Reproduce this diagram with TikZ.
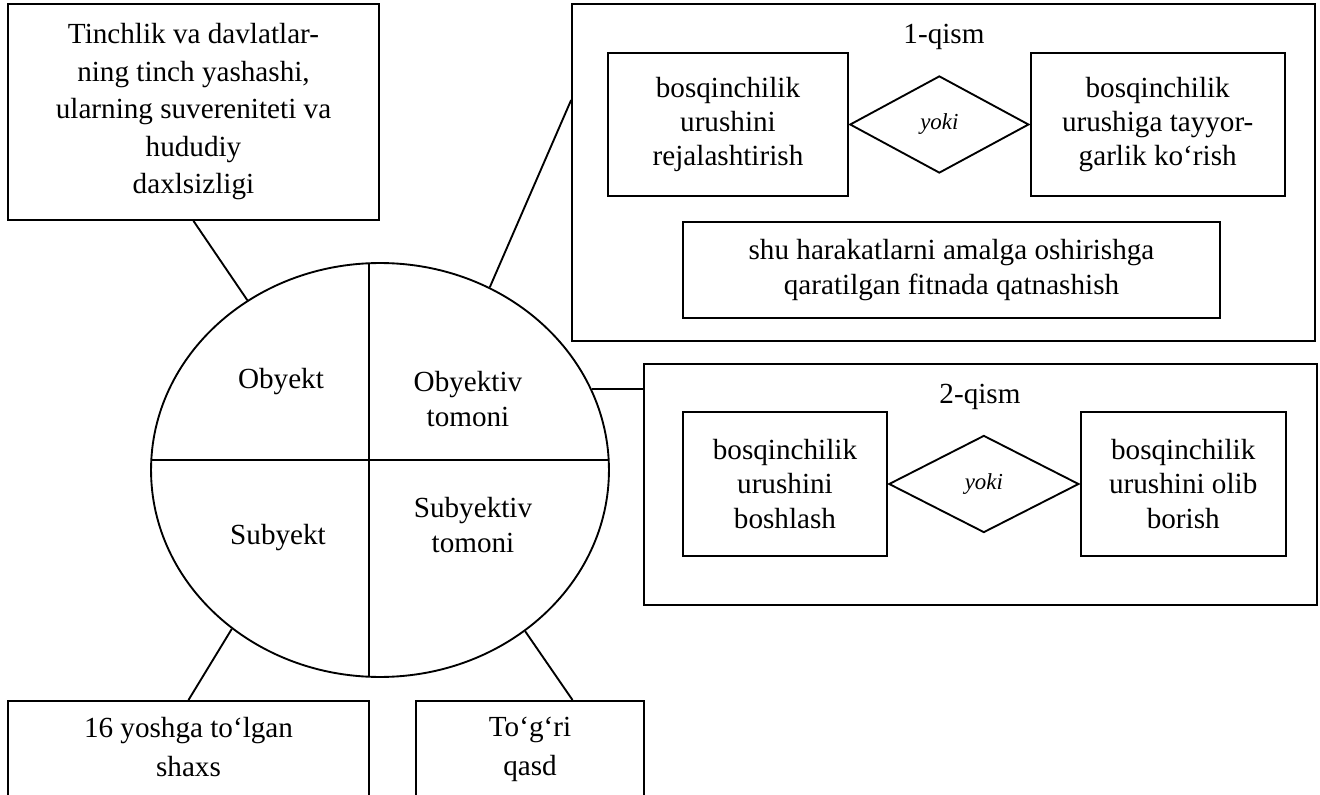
\documentclass[tikz,border=0pt]{standalone}
\usepackage{fontspec}
\setmainfont{Liberation Serif}
\usetikzlibrary{positioning,shapes.geometric,calc}

\begin{document}
\begin{tikzpicture}[
  x=0.48pt, y=-0.48pt,
  font=\fontsize{14}{16.5}\selectfont,
  line width=0.9pt,
  node distance=0pt,
  box/.style={draw, align=center, inner sep=0pt},
  dec/.style={draw, diamond, inner sep=0pt,
              font=\fontsize{11}{13}\selectfont\itshape},
  txt/.style={align=center, inner sep=0pt},
  foot/.style={draw, align=center, anchor=north, inner xsep=0pt,
               inner ysep=7.7pt, text depth=50pt,
               font=\fontsize{14}{18.7}\selectfont}
]
  \useasboundingbox (0,0) rectangle (1320,795);

  \node[box, minimum width=178.1pt, minimum height=103.7pt,
        font=\fontsize{14}{18}\selectfont] (goal) at (193.5,112)
    {Tinchlik va davlatlar-\\ning tinch yashashi,\\ularning suvereniteti va\\hududiy\\daxlsizligi};

  \node[draw, ellipse, minimum width=219.8pt, minimum height=198.7pt,
        inner sep=0pt] (crime) at (380,470) {};
  \draw (151.3,460) -- (608.7,460);
  \draw (369,263.2) -- (369,676.8);
  \node[txt] (obj) at (281,382) {Obyekt};
  \node[txt] (objside) at (468,399) {Obyektiv\\tomoni};
  \node[txt] (subjname) at (278,538) {Subyekt};
  \node[txt] (subjside) at (473,525) {Subyektiv\\tomoni};

  \node[box, minimum width=356.6pt, minimum height=161.8pt] (part1) at (943.5,172.5) {};
  \node[txt] (title1) at (944,37) {1-qism};
  \node[box, minimum width=115.2pt, minimum height=68.6pt] (plan) at (728,124.5)
    {bosqinchilik\\urushini\\rejalashtirish};
  \node[dec, minimum width=85.9pt, minimum height=46.6pt, right=of plan] (or1) {yoki};
  \node[box, minimum width=121.9pt, minimum height=68.6pt, right=of or1] (prep)
    {bosqinchilik\\urushiga tayyor-\\garlik ko‘rish};
  \node[box, minimum width=257.8pt, minimum height=46.1pt] (plot) at (951.5,270)
    {shu harakatlarni amalga oshirishga\\qaratilgan fitnada qatnashish};

  \node[box, minimum width=323pt, minimum height=115.7pt] (part2) at (980.5,484.5) {};
  \node[txt] (title2) at (980,397) {2-qism};
  \node[box, minimum width=97.9pt, minimum height=69.1pt] (start) at (785,484)
    {bosqinchilik\\urushini\\boshlash};
  \node[dec, minimum width=91.2pt, minimum height=46.6pt, right=of start] (or2) {yoki};
  \node[box, minimum width=98.4pt, minimum height=69.1pt, right=of or2] (wage)
    {bosqinchilik\\urushini olib\\borish};

  \node[foot, minimum width=173.3pt] (subj) at (188.5,700) {16 yoshga to‘lgan\\shaxs};
  \node[foot, minimum width=109.4pt] (intent) at (530,700) {To‘g‘ri\\qasd};

  \draw (goal.south) -- (crime.128);
  \draw (crime.59) -- (part1.169);
  \draw (crime.21.3) -- (crime.21.3 -| part2.west);
  \draw (crime.227) -- (subj.north);
  \draw (crime.312) -- ($(intent.north)!0.37!(intent.north east)$);
\end{tikzpicture}
\end{document}
